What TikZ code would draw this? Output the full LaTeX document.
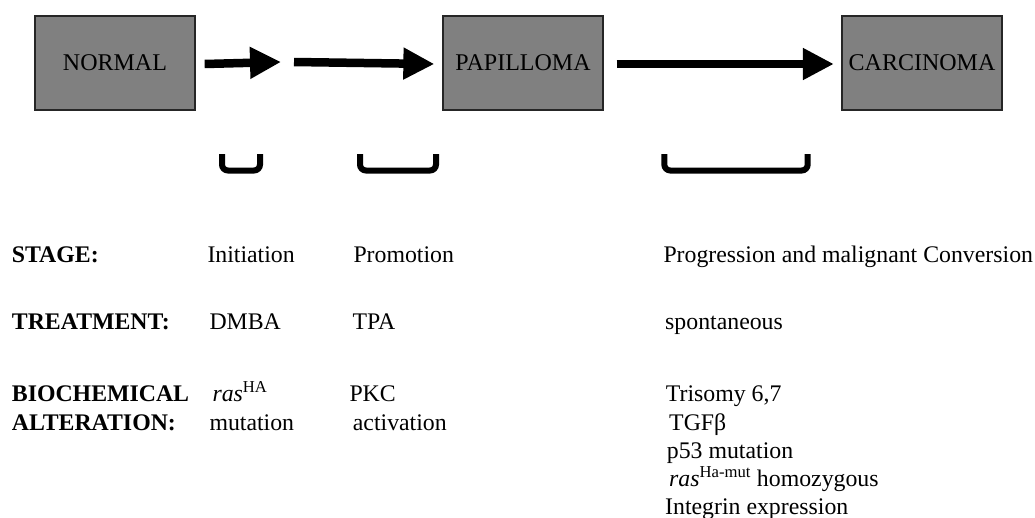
\documentclass[tikz,border=0pt]{standalone}
\usepackage{fontspec}
\setmainfont{Liberation Serif}
\usetikzlibrary{arrows.meta}
\begin{document}
\begin{tikzpicture}[x=1pt,y=-1pt,
  box/.style={draw=black!85,line width=1.3pt,fill=black!50,minimum width=160pt,minimum height=94pt,inner sep=0pt,font=\fontsize{24}{28}\selectfont},
  arr/.style={line width=8.5pt,-{Triangle[length=31pt,width=30pt]}},
  brk/.style={line width=6pt,rounded corners=6pt},
  txt/.style={anchor=base west,inner sep=0pt,font=\fontsize{23.8}{28}\selectfont},
  lbl/.style={txt,font=\fontsize{23.8}{28}\selectfont\bfseries}]
\useasboundingbox (0,0) rectangle (1035,517);
\node[box] (normal) at (115,63) {NORMAL};
\node[box] (pap) at (523,63) {PAPILLOMA};
\node[box] (carc) at (922,63) {CARCINOMA};
\coordinate (a1end) at (281,62);
\coordinate (a2start) at (294,62);
\draw[arr] ([xshift=9pt,yshift=-1pt]normal.east) -- (a1end);
\draw[arr] (a2start) -- ([xshift=-8pt,yshift=-1pt]pap.west);
\draw[arr] ([xshift=13pt,yshift=-1pt]pap.east) -- ([xshift=-7.5pt,yshift=-1pt]carc.west);
\draw[brk] (222,154) -- (222,170.5) -- (260,170.5) -- (260,154);
\draw[brk] (360,154) -- (360,170.5) -- (436,170.5) -- (436,154);
\draw[brk] (664.3,154) -- (664.3,170.5) -- (807.7,170.5) -- (807.7,154);
\node[lbl] (lstage) at (11.7,262) {STAGE:};
\node[lbl] (ltreat) at (11.7,329.5) {TREATMENT:};
\node[lbl] (lbio1) at (11.7,401.7) {BIOCHEMICAL};
\node[lbl] (lbio2) at (11.7,430) {ALTERATION:};
\node[txt] (init) at (207.3,262) {Initiation};
\node[txt] (prom) at (353.3,262) {Promotion};
\node[txt] (prog) at (663.3,262) {Progression and malignant Conversion};
\node[txt] (dmba) at (209.3,329.5) {DMBA};
\node[txt] (tpa) at (352.3,329.5) {TPA};
\node[txt] (spon) at (665,329.5) {spontaneous};
\node[txt] (ras) at (212.3,401.7) {\textit{ras}\textsuperscript{HA}};
\node[txt] (mut) at (209.3,430) {mutation};
\node[txt] (pkc) at (349.3,401.7) {PKC};
\node[txt] (act) at (352.7,430) {activation};
\node[txt] (tri) at (665.7,401.7) {Trisomy 6,7};
\node[txt] (tgf) at (669,430) {TGFβ};
\node[txt] (p53) at (666.7,458.3) {p53 mutation};
\node[txt] (rash) at (669,486.7) {\textit{ras}\textsuperscript{Ha-mut} homozygous};
\node[txt] (integ) at (665,514.5) {Integrin expression};
\end{tikzpicture}
\end{document}
